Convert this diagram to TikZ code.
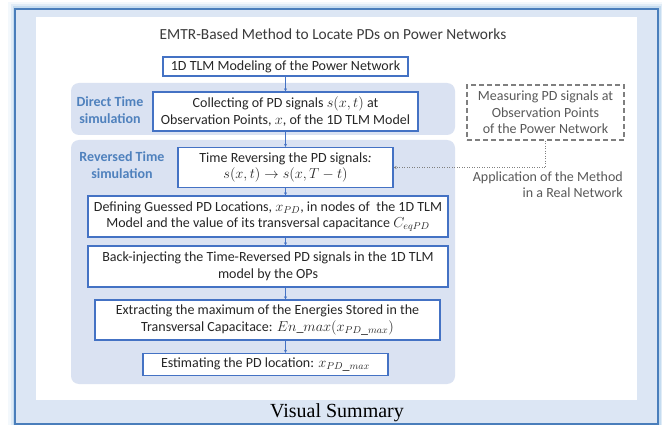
\documentclass[tikz,border=0pt]{standalone}
\usepackage{fontspec}
\setmainfont{Carlito}
\newfontfamily\captionfont{Liberation Serif}
\usetikzlibrary{arrows.meta}
\definecolor{frameblue}{HTML}{4A7EBB}
\definecolor{glowblue}{HTML}{9DC3E6}
\definecolor{framefill}{HTML}{DCE6F4}
\definecolor{bandblue}{HTML}{DAE2F2}
\definecolor{boxblue}{HTML}{4472C4}
\definecolor{phaseblue}{HTML}{4F81BD}
\definecolor{txt}{HTML}{262626}
\definecolor{titlegray}{HTML}{3B3B3B}
\definecolor{probegray}{HTML}{7F7F7F}
\definecolor{notegray}{HTML}{595959}

\begin{document}
\begin{tikzpicture}[x=1pt,y=-1pt]
\tikzstyle{block}=[draw=boxblue, line width=1.3pt, fill=white, align=center, inner sep=1pt, text=txt, font=\fontsize{14}{16.5}\selectfont]
\tikzstyle{phase}=[align=center, text=phaseblue, font=\bfseries\fontsize{14}{16.5}\selectfont]
\tikzstyle{probe}=[draw=probegray, line width=1.3pt, dash pattern=on 5pt off 3pt, align=center, text=notegray, font=\fontsize{14}{16.5}\selectfont]
\tikzstyle{note}=[align=right, inner sep=0pt, text=notegray, font=\fontsize{14}{16.5}\selectfont]
\tikzstyle{flow}=[-{Stealth[length=3pt,width=3pt]}, draw=boxblue, line width=0.5pt]
\tikzstyle{link}=[-{Stealth[length=3pt,width=3pt]}, draw=probegray, line width=0.5pt, dotted]
\useasboundingbox (0,0) rectangle (662,425);

\foreach \w/\o in {14/0.12, 9/0.22, 5/0.4}
  \draw[glowblue, line width=\w pt, opacity=\o] (15,9) rectangle (658,424);
\draw[frameblue, fill=framefill, line width=1.8pt] (15,9) rectangle (658,424);
\fill[white] (36,17) rectangle (637,400);
\fill[bandblue, rounded corners=8pt] (71,83) rectangle (455,135);
\fill[bandblue, rounded corners=8pt] (71,140) rectangle (455,384);

\node[text=titlegray, font=\fontsize{15.4}{18}\selectfont] (title) at (333,34) {EMTR-Based Method to Locate PDs on Power Networks};
\node[phase] (direct) at (110,110) {Direct Time\\simulation};
\node[phase] (reversed) at (122,165) {Reversed Time\\simulation};

\node[block, minimum width=245pt, minimum height=19pt] (model) at (285.5,66.5) {1D TLM Modeling of the Power Network};
\node[block, minimum width=265pt, minimum height=39pt] (collect) at (285.5,111.5) {Collecting of PD signals $s(x,t)$ at\\Observation Points, $x$, of the 1D TLM Model};
\node[block, minimum width=215pt, minimum height=40pt] (reverse) at (285.5,167.5) {Time Reversing the PD signals\textit{:}\\$s(x,t)\rightarrow s(x,T-t)$};
\node[block, minimum width=360pt, minimum height=41pt] (guess) at (268,216.5) {Defining Guessed PD Locations, $x_{PD}$, in nodes of\ \ the 1D TLM\\Model and the value of its transversal capacitance $C_{eqPD}$};
\node[block, minimum width=360pt, minimum height=41pt] (inject) at (268,266.5) {Back-injecting the Time-Reversed PD signals in the 1D TLM\\model by the OPs};
\node[block, minimum width=345pt, minimum height=40pt] (extract) at (267.5,320) {Extracting the maximum of the Energies Stored in the\\Transversal Capacitace: $En\_max(x_{PD\_max})$};
\node[block, minimum width=245pt, minimum height=22pt] (estimate) at (265.5,364.5) {Estimating the PD location: $x_{PD\_max}$};

\node[probe, minimum width=157pt, minimum height=55pt] (measure) at (545.5,112.5) {Measuring PD signals at\\Observation Points\\of the Power Network};
\node[note, anchor=east] (apply) at (623,184.5) {Application of the Method\\in a Real Network};

\draw[flow] (model) -- (collect);
\draw[flow] (collect) -- (reverse);
\draw[flow] (reverse.south) -- (reverse.south |- guess.north);
\draw[flow] (reverse.south |- guess.south) -- (reverse.south |- inject.north);
\draw[flow] (reverse.south |- inject.south) -- (reverse.south |- extract.north);
\draw[flow] (reverse.south |- extract.south) -- (reverse.south |- estimate.north);
\draw[link] (measure.south) |- (reverse.east);

\node[font=\captionfont\fontsize{20}{20}\selectfont] (caption) at (337,413) {Visual Summary};
\end{tikzpicture}
\end{document}
